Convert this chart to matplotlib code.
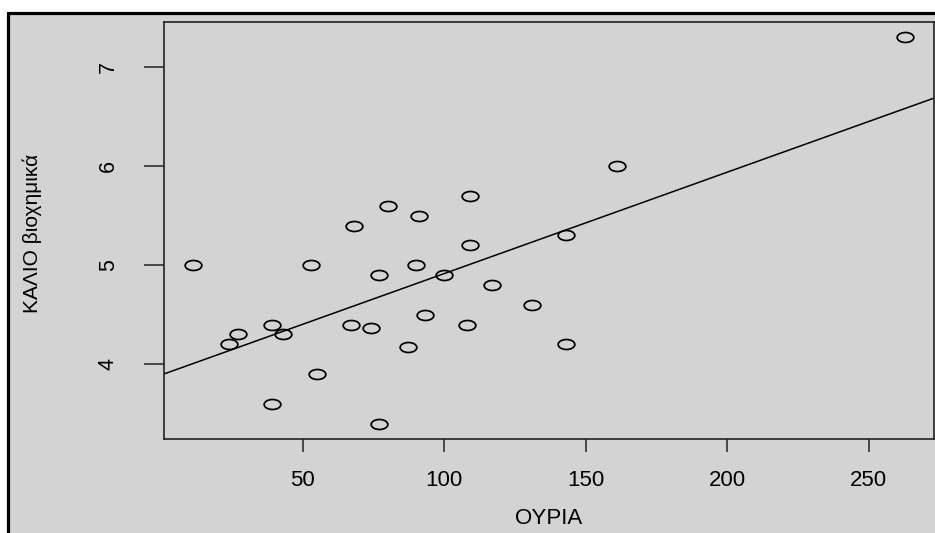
import numpy as np
import matplotlib
matplotlib.use("Agg")
import matplotlib.pyplot as plt
from matplotlib.path import Path
from matplotlib.transforms import Affine2D
from matplotlib.patches import Rectangle

# Urea (ΟΥΡΙΑ) against biochemical potassium (ΚΑΛΙΟ βιοχημικά)
urea = [11, 24, 27, 39, 43, 39, 53, 55, 67, 68, 74, 77, 77, 80, 87, 90, 91,
        93, 100, 108, 109, 109, 117, 131, 143, 143, 161, 263]
potassium = [5.0, 4.2, 4.3, 4.4, 4.3, 3.6, 5.0, 3.9, 4.4, 5.4, 4.37, 4.9, 3.4,
             5.6, 4.17, 5.0, 5.5, 4.5, 4.9, 4.4, 5.2, 5.7, 4.8, 4.6, 5.3, 4.2,
             6.0, 7.3]
x_ticks = [50, 100, 150, 200, 250]
y_ticks = [4, 5, 6, 7]

W, H, DPI = 935, 533, 100
BG = "#D3D3D3"
plt.rcParams["font.family"] = ["Liberation Sans", "DejaVu Sans"]

fig = plt.figure(figsize=(W / DPI, H / DPI), dpi=DPI, facecolor="white")

# grey panel with a heavy black frame
panel = Rectangle((8 / W, -0.1), 1.2, 1.1 - 13.5 / H,
                  transform=fig.transFigure, facecolor=BG,
                  edgecolor="black", linewidth=2.3, zorder=0)
fig.add_artist(panel)

ax = fig.add_axes([164 / W, 1 - 439 / H, 770 / W, 417 / H])
ax.set_facecolor(BG)

# slightly wide open circles
ell = Path.unit_circle().transformed(Affine2D().scale(1.67, 1.0))
x = np.asarray(urea, dtype=float)
y = np.asarray(potassium, dtype=float)
ax.plot(x, y, linestyle="none", marker=ell, markersize=12,
        markerfacecolor="none", markeredgecolor="black", markeredgewidth=1.25)

# least-squares fit line
slope, intercept = np.polyfit(x, y, 1)
ax.axline((0, intercept), slope=slope, color="black", linewidth=1.1)

# axis ranges padded by 4% as in base graphics
xr = x.max() - x.min()
yr = y.max() - y.min()
ax.set_xlim(x.min() - 0.04 * xr, x.max() + 0.04 * xr)
ax.set_ylim(y.min() - 0.04 * yr, y.max() + 0.04 * yr)

ax.set_xticks(x_ticks)
ax.set_xticklabels([str(v) for v in x_ticks])
ax.set_yticks(y_ticks)
ax.set_yticklabels([str(v) for v in y_ticks])

for s in ax.spines.values():
    s.set_linewidth(1.2)
    s.set_color("#222222")

ax.tick_params(axis="x", length=9, width=1.1, color="#222222", pad=13,
               labelsize=16)
ax.tick_params(axis="y", length=14.4, width=1.1, color="#222222", pad=18,
               labelsize=15.5, labelrotation=90)
for lbl in ax.get_yticklabels():
    lbl.set_verticalalignment("center")

ax.set_xlabel("ΟΥΡΙΑ", fontsize=16, va="center")
ax.xaxis.set_label_coords(0.5, (439 - 519) / 417)
ax.set_ylabel("ΚΑΛΙΟ βιοχημικά", fontsize=15, va="center", ha="center")
ax.yaxis.set_label_coords((32 - 164) / 770, (439 - 233) / 417)

fig.savefig("out.png", dpi=DPI, facecolor="white")
